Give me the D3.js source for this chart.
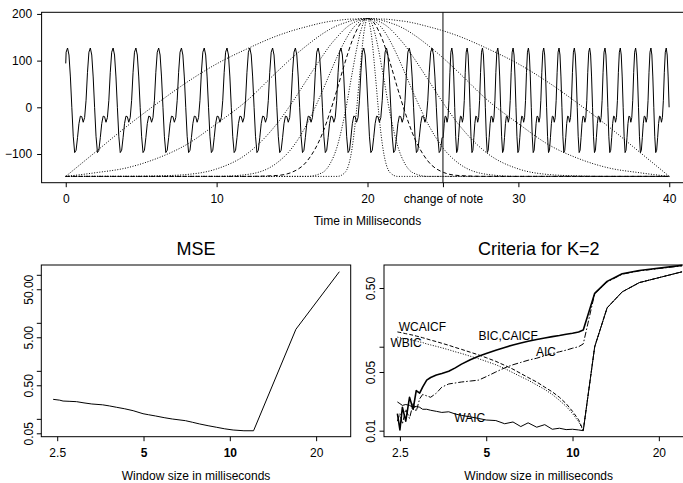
<!DOCTYPE html>
<html>
<head>
<meta charset="utf-8">
<script src="https://cdn.jsdelivr.net/npm/d3@7"></script>
<style>
  body { margin: 0; background: #fff; }
  svg { display: block; font-family: "Liberation Sans", Arial, Helvetica, sans-serif; }
</style>
</head>
<body>
<svg id="chart" width="683" height="483"></svg>
<script>
// ---------- top panel: signal + windows ----------
const timeTicks = [0, 10, 20, 25, 30, 40];
const timeTickLabels = ["0", "10", "20", "change of note", "30", "40"];
const ampTicks = [-100, 0, 100, 200];
const changeOfNote = 25;

// one period of the note, 16 samples, starting on the peak
const cycleShape = [127, 112, 65, 0, -62, -97, -92, -65, -35, -19, -20, -32, -22, 15, 75, 118];
// the two notes: time span, time of first peak, period (ms)
const noteStart = [0, 25];
const noteEnd = [25, 40.01];
const noteFirstPeak = [0.12, 25.59];
const notePeriod = [1.51, 1.015];
const signalStartValue = 94;

// windows centred on 20 ms, values read at these distances from the centre
const winOffsets = [0, 0.25, 0.5, 0.75, 1, 1.5, 2, 2.5, 3, 4, 5, 6, 8, 10, 12, 14, 16, 18, 20];
const win1 = [190, 190, 190, 189, 189, 188, 186, 184, 181, 173, 164, 153, 125, 93, 53, 7, -42, -95, -148];
const win2 = [190, 190, 189, 188, 186, 181, 175, 167, 157, 133, 106, 76, 14, -35, -80, -110, -130, -140, -148];
const win3 = [190, 189, 187, 184, 180, 168, 151, 132, 109, 60, 10, -35, -100, -132, -144, -147, -148, -148, -148];
const win4 = [190, 189, 184, 177, 168, 142, 109, 72, 34, -35, -87, -119, -144, -148, -148, -148, -148, -148, -148];
const win5 = [190, 187, 178, 163, 144, 95, 40, -12, -57, -115, -139, -146, -148, -148, -148, -148, -148, -148, -148];
const win6 = [190, 182, 157, 120, 76, -14, -83, -122, -140, -148, -148, -148, -148, -148, -148, -148, -148, -148, -148];
const win7 = [190, 157, 76, -14, -83, -140, -148, -148, -148, -148, -148, -148, -148, -148, -148, -148, -148, -148, -148];
const windowSets = [win1, win2, win3, win4, win5, win6, win7];
const windowDash = ["1,1.6", "1,1.6", "1,1.6", "1,1.6", "4,2.5", "1,1.6", "1,1.6"];

// ---------- bottom left: MSE ----------
const mseW = [2.42, 2.55, 2.62, 2.75, 2.92, 3.1, 3.3, 3.6, 3.8, 4.03, 4.3, 4.6, 4.98, 5.2, 5.5, 5.9, 6.3, 7.0, 7.4, 7.85, 8.4, 9.0, 9.6, 10.27, 11.2, 12.1, 17.0, 24.1];
const mseV = [0.255, 0.245, 0.235, 0.232, 0.228, 0.215, 0.204, 0.196, 0.186, 0.174, 0.162, 0.148, 0.128, 0.122, 0.115, 0.106, 0.0993, 0.0917, 0.085, 0.0782, 0.072, 0.0667, 0.062, 0.0586, 0.0565, 0.0565, 7.34, 116];
const mseTicks = [0.05, 0.1, 0.5, 1, 5, 10, 50, 100];
const mseTickLabels = ["0.05", "", "0.50", "", "5.00", "", "50.00", ""];

// ---------- bottom right: criteria ----------
const winTicks = [2.5, 5, 10, 20];
const winTickLabels = ["2.5", "5", "10", "20"];
const winTickBold = [false, true, true, false];
const critW = [2.45, 2.5, 2.55, 2.62, 2.7, 2.78, 2.85, 2.93, 3.0, 3.1, 3.2, 3.35, 3.5, 3.7, 3.9, 4.1, 4.4, 4.7, 5.0, 5.4, 5.8, 6.2, 6.6, 7.0, 7.5, 8.0, 8.5, 9.0, 9.5, 10.0, 10.5, 10.9, 11.95, 13.2, 14.9, 17.1, 24.1];
const bic = [0.016, 0.0102, 0.019, 0.013, 0.025, 0.018, 0.030, 0.028, 0.033, 0.040, 0.043, 0.046, 0.048, 0.051, 0.056, 0.062, 0.070, 0.077, 0.083, 0.091, 0.098, 0.105, 0.111, 0.116, 0.122, 0.127, 0.132, 0.136, 0.141, 0.145, 0.150, 0.158, 0.432, 0.60, 0.74, 0.81, 0.93];
const aic = [0.013, 0.016, 0.012, 0.018, 0.014, 0.021, 0.017, 0.024, 0.027, 0.026, 0.025, 0.028, 0.033, 0.036, 0.037, 0.038, 0.039, 0.040, 0.044, 0.050, 0.056, 0.061, 0.065, 0.069, 0.073, 0.078, 0.083, 0.087, 0.091, 0.096, 0.100, 0.108, 0.43, 0.59, 0.73, 0.80, 0.92];
const waic = [0.022, 0.021, 0.020, 0.0205, 0.020, 0.019, 0.0195, 0.019, 0.018, 0.018, 0.0175, 0.017, 0.0165, 0.0168, 0.0158, 0.0152, 0.0146, 0.014, 0.0134, 0.0132, 0.0121, 0.0127, 0.0112, 0.0124, 0.011, 0.0118, 0.0104, 0.0107, 0.0103, 0.0104, 0.0102, 0.0100, 0.100, 0.29, 0.45, 0.58, 0.78];
const wcaicf = [0.150, 0.148, 0.146, 0.143, 0.140, 0.137, 0.134, 0.131, 0.128, 0.124, 0.120, 0.115, 0.110, 0.104, 0.098, 0.093, 0.086, 0.080, 0.074, 0.067, 0.060, 0.054, 0.048, 0.043, 0.038, 0.033, 0.029, 0.025, 0.021, 0.017, 0.0135, 0.0101, 0.100, 0.29, 0.45, 0.58, 0.78];
const wbic = [0.130, 0.128, 0.126, 0.124, 0.122, 0.119, 0.117, 0.114, 0.112, 0.108, 0.105, 0.101, 0.097, 0.092, 0.087, 0.083, 0.077, 0.072, 0.067, 0.061, 0.055, 0.049, 0.044, 0.040, 0.035, 0.031, 0.027, 0.023, 0.0195, 0.016, 0.0128, 0.0100, 0.100, 0.29, 0.45, 0.58, 0.78];
const critTicks = [0.01, 0.05, 0.1, 0.5];
const critTickLabels = ["0.01", "0.05", "", "0.50"];
const critLabels = ["WCAICF", "WBIC", "BIC,CAICF", "AIC", "WAIC"];
const critLabelW = [2.995, 2.627, 5.96, 8.08, 4.38];
const critLabelV = [0.154, 0.0992, 0.1202, 0.0775, 0.0127];

// ---------- drawing ----------
const svg = d3.select("#chart");
const tickLen = 4.5;

function frame(l, t, r, b) {
  svg.append("rect")
    .attr("x", l).attr("y", t)
    .attr("width", r - l).attr("height", b - t)
    .attr("fill", "none").attr("stroke", "#000").attr("stroke-width", 1);
}

function styleAxis(g) {
  g.select(".domain").remove();
  g.selectAll(".tick line").attr("stroke", "#000");
  g.selectAll(".tick text").attr("fill", "#000").style("font-size", "12px");
}

// top panel
const topP = {l: 41.6, r: 693.4, t: 12.3, b: 182.7};
const x = d3.scaleLinear().domain([-1.6, 41.6]).range([topP.l, topP.r]);
const y = d3.scaleLinear().domain([-161.5, 203.5]).range([topP.b, topP.t]);

const topG = svg.append("g");
const line = d3.line().x(d => x(d[0])).y(d => y(d[1]));

// signal: the read cycle repeated for each note
const signal = [[0, signalStartValue]];
noteStart.forEach((s, i) => {
  const per = notePeriod[i];
  const step = per / cycleShape.length;
  let k = Math.floor((s - noteFirstPeak[i]) / per) - 1;
  let done = false;
  while (!done) {
    for (let j = 0; j < cycleShape.length; j++) {
      const t = noteFirstPeak[i] + k * per + j * step;
      if (t <= s) continue;
      if (t >= noteEnd[i]) { done = true; break; }
      signal.push([t, cycleShape[j]]);
    }
    k++;
  }
});

topG.append("path")
  .datum(signal)
  .attr("fill", "none")
  .attr("stroke", "#000")
  .attr("stroke-width", 1)
  .attr("stroke-linejoin", "round")
  .attr("d", line);

// windows
const winLine = d3.line().curve(d3.curveMonotoneX).x(d => x(d[0])).y(d => y(d[1]));
windowSets.forEach((vals, i) => {
  const pts = [];
  for (let j = winOffsets.length - 1; j > 0; j--) pts.push([20 - winOffsets[j], vals[j]]);
  for (let j = 0; j < winOffsets.length; j++) pts.push([20 + winOffsets[j], vals[j]]);
  topG.append("path")
    .datum(pts)
    .attr("fill", "none")
    .attr("stroke", "#000")
    .attr("stroke-width", 1)
    .attr("stroke-dasharray", windowDash[i])
    .attr("d", winLine);
});

// change of note marker
topG.append("line")
  .attr("x1", x(changeOfNote)).attr("x2", x(changeOfNote))
  .attr("y1", topP.t).attr("y2", topP.b)
  .attr("stroke", "#333").attr("stroke-width", 1.2);

frame(topP.l, topP.t, topP.r, topP.b);

svg.append("g")
  .attr("transform", `translate(0,${topP.b})`)
  .call(d3.axisBottom(x).tickValues(timeTicks)
    .tickFormat((d, i) => timeTickLabels[i]).tickSize(tickLen).tickPadding(7.5))
  .call(styleAxis);

svg.append("g")
  .attr("transform", `translate(${topP.l},0)`)
  .call(d3.axisLeft(y).tickValues(ampTicks).tickSize(tickLen).tickPadding(5))
  .call(styleAxis);

svg.append("text")
  .attr("x", (topP.l + topP.r) / 2).attr("y", 225)
  .attr("text-anchor", "middle").style("font-size", "12px")
  .text("Time in Milliseconds");

// bottom panels
function logPanel(p, yDomain, yTicks, yTickLabels, title) {
  const xs = d3.scaleLog().domain([2.2, 26.4]).range([p.l, p.r]);
  const ys = d3.scaleLog().domain(yDomain).range([p.b, p.t]);
  const g = svg.append("g");

  const xa = svg.append("g")
    .attr("transform", `translate(0,${p.b})`)
    .call(d3.axisBottom(xs).tickValues(winTicks)
      .tickFormat((d, i) => winTickLabels[i]).tickSize(tickLen).tickPadding(7))
    .call(styleAxis);
  xa.selectAll(".tick text").style("font-weight", (d, i) => winTickBold[i] ? "bold" : "normal");

  const ya = svg.append("g")
    .attr("transform", `translate(${p.l},0)`)
    .call(d3.axisLeft(ys).tickValues(yTicks)
      .tickFormat((d, i) => yTickLabels[i]).tickSize(tickLen))
    .call(styleAxis);
  ya.selectAll(".tick text")
    .attr("transform", "rotate(-90)")
    .attr("x", 0).attr("y", -8.7).attr("dy", 0)
    .attr("text-anchor", "middle");

  frame(p.l, p.t, p.r, p.b);

  svg.append("text")
    .attr("x", (p.l + p.r) / 2).attr("y", 255)
    .attr("text-anchor", "middle").style("font-size", "18px")
    .text(title);

  svg.append("text")
    .attr("x", (p.l + p.r) / 2).attr("y", 480)
    .attr("text-anchor", "middle").style("font-size", "12px")
    .text("Window size in milliseconds");

  return {xs, ys, g};
}

const leftP = {l: 41.3, r: 350.7, t: 265, b: 436.7};
const rightP = {l: 384, r: 693.4, t: 265, b: 436.7};

const mse = logPanel(leftP, [0.0425, 160], mseTicks, mseTickLabels, "MSE");
mse.g.append("path")
  .datum(mseW.map((w, i) => [w, mseV[i]]))
  .attr("fill", "none").attr("stroke", "#000").attr("stroke-width", 1)
  .attr("d", d3.line().x(d => mse.xs(d[0])).y(d => mse.ys(d[1])));

const crit = logPanel(rightP, [0.00848, 0.94], critTicks, critTickLabels, "Criteria for K=2");
const critLine = d3.line().x(d => crit.xs(d[0])).y(d => crit.ys(d[1]));
const critSeries = [
  {v: waic, dash: null, w: 1},
  {v: wbic, dash: "1,1.6", w: 1},
  {v: wcaicf, dash: "4,2", w: 1},
  {v: aic, dash: "6,2,1.5,2", w: 1},
  {v: bic, dash: null, w: 1.6}
];
critSeries.forEach(s => {
  crit.g.append("path")
    .datum(critW.map((w, i) => [w, s.v[i]]))
    .attr("fill", "none").attr("stroke", "#000")
    .attr("stroke-width", s.w)
    .attr("stroke-dasharray", s.dash)
    .attr("stroke-linejoin", "round")
    .attr("d", critLine);
});
crit.g.selectAll("text.lab")
  .data(critLabels)
  .join("text")
  .attr("class", "lab")
  .attr("x", (d, i) => crit.xs(critLabelW[i]))
  .attr("y", (d, i) => crit.ys(critLabelV[i]))
  .attr("text-anchor", "middle")
  .style("font-size", "12px")
  .text(d => d);
</script>
</body>
</html>
